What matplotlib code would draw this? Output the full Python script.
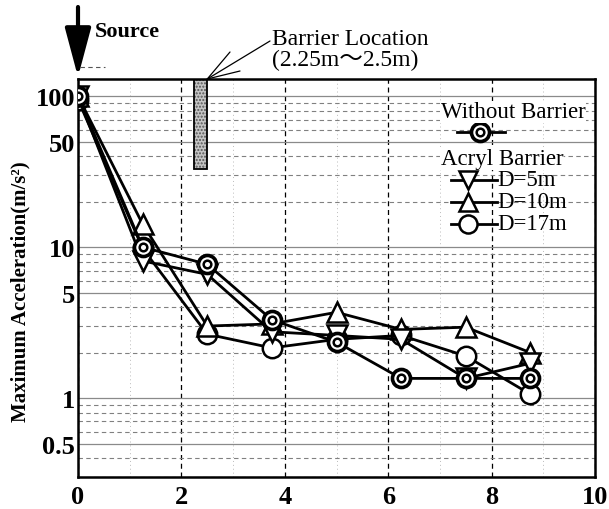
import matplotlib
matplotlib.use("Agg")
import matplotlib.pyplot as plt
from matplotlib.lines import Line2D
from matplotlib.patches import Rectangle
from matplotlib.ticker import FixedLocator, NullFormatter

plt.rcParams['font.family'] = ['Liberation Serif', 'Noto Sans CJK JP', 'DejaVu Sans']

# Datos
distancia = [0, 1.25, 2.5, 3.75, 5, 6.25, 7.5, 8.75]
sin_barrera = [100, 10.0, 7.7, 3.3, 2.35, 1.35, 1.35, 1.35]
d_5m = [100, 8.1, 6.6, 2.75, 2.6, 2.45, 1.35, 1.7]
d_10m = [100, 14.2, 3.0, 3.1, 3.7, 2.85, 2.95, 2.0]
d_17m = [95, 9.8, 2.65, 2.15, 2.45, 2.6, 1.9, 1.06]

barrera = (2.25, 2.5)
barrera_base = 33
ticks_y = [0.5, 1, 5, 10, 50, 100]
ticks_x = [0, 2, 4, 6, 8, 10]

W, H = 609, 510
fig = plt.figure(figsize=(W / 100, H / 100), dpi=100)
ax = fig.add_axes([78 / W, 1 - 478 / H, (595 - 78) / W, (478 - 80) / H])


def px(x, y):
    # pixeles (desde arriba) -> fracción de figura
    return x / W, 1 - y / H


ax.set_yscale('log')
ax.set_xlim(0, 10)
ax.set_ylim(0.3, 130)

ax.yaxis.set_major_locator(FixedLocator(ticks_y))
ax.set_yticklabels([('%g' % t) for t in ticks_y])
menores = [m * d for d in (0.1, 1, 10) for m in range(2, 10)]
menores = [v for v in menores if v not in ticks_y and 0.3 < v < 130]
ax.yaxis.set_minor_locator(FixedLocator(menores))
ax.yaxis.set_minor_formatter(NullFormatter())
ax.xaxis.set_major_locator(FixedLocator(ticks_x))
ax.xaxis.set_minor_locator(FixedLocator([1, 3, 5, 7, 9]))

ax.grid(True, which='major', axis='y', color='#8a8a8a', lw=0.9, ls='-')
ax.grid(True, which='minor', axis='y', color='#808080', lw=0.8, ls=(0, (4, 3)))
ax.grid(True, which='major', axis='x', color='black', lw=0.9, ls=(0, (4, 3)))
ax.grid(True, which='minor', axis='x', color='#bbbbbb', lw=0.7, ls=(0, (1, 3)))
ax.tick_params(which='both', length=0, labelsize=19)
ax.tick_params(axis='y', pad=2)
ax.tick_params(axis='x', pad=6)
for lab in ax.get_xticklabels() + ax.get_yticklabels():
    lab.set_fontweight('bold')
for s in ax.spines.values():
    s.set_linewidth(1.8)

# Barrera
ax.add_patch(Rectangle((barrera[0], barrera_base), barrera[1] - barrera[0], 130 - barrera_base,
                       facecolor='#c4c4c4', edgecolor='#555555', hatch='.....', lw=0, zorder=2))
ax.add_patch(Rectangle((barrera[0], barrera_base), barrera[1] - barrera[0], 130 - barrera_base,
                       fill=False, edgecolor='black', lw=1.3, zorder=2))

# Series
estilo = dict(color='black', lw=2.0, markerfacecolor='white', markeredgecolor='black',
              markeredgewidth=1.8, zorder=3)
ax.plot(distancia, d_17m, marker='o', markersize=14, **estilo)
ax.plot(distancia, d_10m, marker='^', markersize=14, **estilo)
ax.plot(distancia, d_5m, marker='v', markersize=14, **estilo)
ax.plot(distancia, sin_barrera, marker='o', markersize=13, **dict(estilo, markeredgewidth=2.6))
ax.plot(distancia, sin_barrera, ls='none', marker='o', markersize=5.5, markerfacecolor='white',
        markeredgecolor='black', markeredgewidth=1.8, zorder=4)

ax.set_ylabel('Maximum Acceleration(m/s²)', fontsize=15, fontweight='bold')
ax.yaxis.set_label_coords(-0.091, 0.467)

# Flecha de la fuente
ax.annotate('', xy=(78, H - 78), xycoords='figure pixels',
            xytext=(78, H - 8), textcoords='figure pixels',
            arrowprops=dict(arrowstyle='-|>,head_length=1.5,head_width=0.4', lw=3,
                            color='black', mutation_scale=20, shrinkA=0, shrinkB=0))
fig.add_artist(Line2D(*zip(px(80, 68), px(105, 68)), color='#555555', lw=0.8, ls=(0, (4, 3))))
fig.text(*px(95, 32), 'Source', fontsize=16, fontweight='bold', va='center', ha='left')

# Indicación de la barrera
fig.text(*px(272, 50), 'Barrier Location\n(2.25m〜2.5m)', fontsize=17, va='center', ha='left',
         linespacing=0.95)
for fin in [(270, 42), (230, 53), (240, 72)]:
    ax.annotate('', xy=(2.5, 1), xycoords=('data', 'axes fraction'),
                xytext=(fin[0], H - fin[1]), textcoords='figure pixels',
                arrowprops=dict(arrowstyle='-', lw=0.9, color='black', shrinkA=0, shrinkB=0))

# Leyenda dibujada a mano
caja = dict(facecolor='white', edgecolor='none', pad=0.5)
fig.text(*px(441, 113), 'Without Barrier', fontsize=16.5, va='center', ha='left', bbox=caja)
xs, ys = zip(px(457, 133), px(505, 133))
fig.add_artist(Line2D(xs, ys, color='black', lw=2))
fig.add_artist(Line2D(*zip(px(480, 133)), marker='o', markersize=13, markerfacecolor='white',
                      markeredgecolor='black', markeredgewidth=2.6))
fig.add_artist(Line2D(*zip(px(480, 133)), marker='o', markersize=5.5, markerfacecolor='white',
                      markeredgecolor='black', markeredgewidth=1.8))
fig.text(*px(441, 160), 'Acryl Barrier', fontsize=16.5, va='center', ha='left', bbox=caja)
for yy, mk, txt in [(181, 'v', 'D=5m'), (203, '^', 'D=10m'), (225, 'o', 'D=17m')]:
    xs, ys = zip(px(451, yy), px(497, yy))
    fig.add_artist(Line2D(xs, ys, color='black', lw=2))
    fig.add_artist(Line2D(*zip(px(468, yy)), marker=mk, markersize=13, markerfacecolor='white',
                          markeredgecolor='black', markeredgewidth=1.8))
    fig.text(*px(497, yy), txt, fontsize=16.5, va='center', ha='left')

fig.savefig('out.png', dpi=100)
